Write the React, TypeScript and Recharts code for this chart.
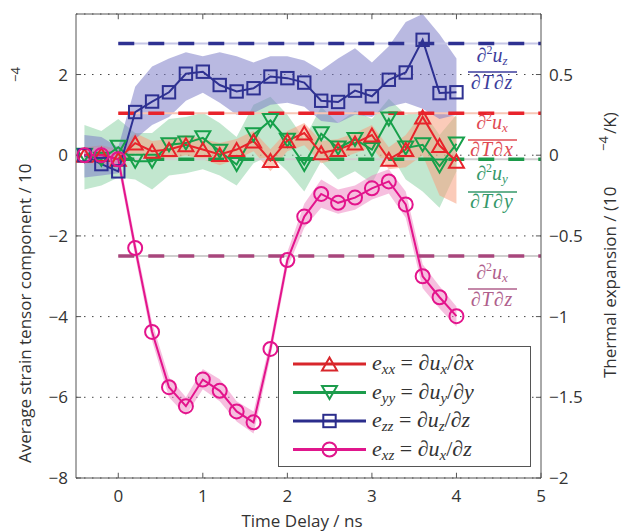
import React from 'react';
import { ComposedChart, Line, Area, XAxis, YAxis, CartesianGrid, ReferenceLine } from 'recharts';

const times = [-0.4, -0.2, 0, 0.2, 0.4, 0.6, 0.8, 1.0, 1.2, 1.4, 1.6, 1.8, 2.0, 2.2, 2.4, 2.6, 2.8, 3.0, 3.2, 3.4, 3.6, 3.8, 4.0];

const exx = [0, 0.02, -0.1, 0.3, 0.1, 0.14, 0.26, 0.14, 0.02, 0.14, 0.35, -0.13, 0.36, 0.55, 0.06, 0.14, 0.3, 0.5, -0.1, 0.14, 0.95, 0.24, -0.15];
const exxLo = [-0.2, -0.2, -0.3, 0.05, -0.15, -0.1, 0.0, -0.1, -0.25, -0.1, 0.1, -0.4, 0.1, 0.25, -0.2, -0.1, 0.05, 0.2, -0.35, -0.3, 0.0, -1.0, -1.2];
const exxHi = [0.2, 0.25, 0.15, 0.55, 0.35, 0.4, 0.5, 0.4, 0.3, 0.4, 0.6, 0.15, 0.6, 0.8, 0.35, 0.4, 0.55, 0.75, 0.2, 0.5, 1.05, 1.05, 0.95];

const eyy = [0, -0.1, 0.2, -0.15, -0.15, 0.26, 0.3, 0.43, 0.1, -0.23, 0.51, 0.86, 0.37, -0.23, 0.53, 0.18, 0.39, 0.14, 0.9, 0.18, 0.26, -0.27, 0.28];
const eyyLo = [-0.85, -0.75, -0.55, -0.6, -0.85, -0.5, -0.45, -0.35, -0.5, -0.75, -0.2, 0.0, -0.4, -0.9, -0.15, -0.6, -0.4, -0.7, 0.1, -0.6, -0.9, -1.3, -0.4];
const eyyHi = [0.75, 0.6, 0.9, 0.55, 0.55, 0.9, 0.95, 1.05, 0.8, 0.45, 1.25, 1.45, 1.0, 0.4, 1.2, 0.8, 1.1, 0.9, 1.4, 1.0, 1.1, 0.5, 1.0];

const ezz = [0, -0.22, -0.4, 1.07, 1.33, 1.56, 2.02, 2.07, 1.74, 1.58, 1.66, 1.95, 1.91, 1.8, 1.35, 1.32, 1.6, 1.46, 1.87, 2.05, 2.86, 1.54, 1.56];
const ezzLo = [-0.55, -0.5, -0.45, 0.4, 0.75, 0.95, 1.35, 1.55, 1.3, 1.0, 1.05, 1.25, 1.3, 1.2, 0.85, 0.8, 1.0, 0.95, 1.2, 1.3, 1.15, 0.9, 1.0];
const ezzHi = [0.5, 0.45, 0.2, 1.7, 2.2, 2.4, 2.55, 2.45, 2.55, 2.45, 2.3, 2.45, 2.45, 2.35, 2.1, 2.4, 2.65, 2.3, 2.7, 3.3, 3.5, 3.0, 2.4];

const exz = [0, 0, -0.1, -2.3, -4.38, -5.75, -6.22, -5.56, -5.84, -6.35, -6.62, -4.8, -2.6, -1.52, -0.96, -1.18, -1.05, -0.82, -0.65, -1.22, -3.0, -3.52, -3.99];
const exzLo = [-0.2, -0.2, -0.3, -2.5, -4.6, -6.0, -6.45, -5.8, -6.1, -6.6, -6.9, -5.0, -2.8, -1.8, -1.3, -1.45, -1.35, -1.1, -0.95, -1.55, -3.3, -3.8, -4.25];
const exzHi = [0.2, 0.2, 0.1, -2.1, -4.15, -5.5, -6.0, -5.3, -5.55, -6.1, -6.35, -4.6, -2.4, -1.2, -0.6, -0.85, -0.75, -0.5, -0.35, -0.9, -2.7, -3.25, -3.75];

// thermal expansion reference levels (left-axis units)
const refLevels = [
  { key: 'z', value: 2.77, dark: '#2e3192', light: '#c6c6e6' },
  { key: 'x', value: 1.04, dark: '#e8232b', light: '#f8c6b6' },
  { key: 'y', value: -0.1, dark: '#1c9a4a', light: '#cfcfcf' },
  { key: 'xz', value: -2.5, dark: '#a8467c', light: '#cfcfcf' },
];

const xTicks = [0, 1, 2, 3, 4, 5];
const leftTicks = [-8, -6, -4, -2, 0, 2];
const rightTicks = [-2, -1.5, -1, -0.5, 0, 0.5];

const data = times.map((t, i) => ({
  t,
  exx: exx[i], exxBand: [exxLo[i], exxHi[i]],
  eyy: eyy[i], eyyBand: [eyyLo[i], eyyHi[i]],
  ezz: ezz[i], ezzBand: [ezzLo[i], ezzHi[i]],
  exz: exz[i], exzBand: [exzLo[i], exzHi[i]],
}));

const RED = '#e8232b';
const GREEN = '#17a04a';
const BLUE = '#2e3192';
const PINK = '#e3148c';
const AXIS = '#555555';
const TXT = '#333333';

const triUp = (cx: number, cy: number) => `M${cx},${cy - 6.5} L${cx + 7.5},${cy + 6.5} L${cx - 7.5},${cy + 6.5} Z`;
const triDown = (cx: number, cy: number) => `M${cx},${cy + 6.5} L${cx + 7.5},${cy - 6.5} L${cx - 7.5},${cy - 6.5} Z`;

const Marker = ({ shape, cx, cy, color }: any) => {
  if (cx == null || cy == null) return null;
  if (shape === 'up') return <path d={triUp(cx, cy)} fill="none" stroke={color} strokeWidth={2} />;
  if (shape === 'down') return <path d={triDown(cx, cy)} fill="none" stroke={color} strokeWidth={2} />;
  if (shape === 'square') return <rect x={cx - 6.2} y={cy - 6.2} width={12.4} height={12.4} fill="none" stroke={color} strokeWidth={2} />;
  return <circle cx={cx} cy={cy} r={7} fill="none" stroke={color} strokeWidth={2} />;
};

const dotFn = (shape: string, color: string) => (p: any) => (
  <Marker key={`${shape}-${p.index}`} shape={shape} cx={p.cx} cy={p.cy} color={color} />
);

const fmt = (v: number) => String(v).replace('-', '\u2212');

const serif = "'Liberation Serif', 'DejaVu Serif', serif";
const sans = "'Open Sans', 'Noto Sans', sans-serif";

const legendItems = [
  { shape: 'up', color: '#d8262b', sub: 'xx', u: 'x', d: 'x' },
  { shape: 'down', color: '#1c9c4c', sub: 'yy', u: 'y', d: 'y' },
  { shape: 'square', color: '#2b2d8c', sub: 'zz', u: 'z', d: 'z' },
  { shape: 'circle', color: '#e0168c', sub: 'xz', u: 'x', d: 'z' },
];

const fracLabels = [
  { u: 'z', d: 'z', color: '#3d3d9c', num: 62, bar: 72, den: 89 },
  { u: 'x', d: 'x', color: '#e04a52', num: 129, bar: 140, den: 156 },
  { u: 'y', d: 'y', color: '#35996a', num: 180, bar: 192, den: 208 },
  { u: 'x', d: 'z', color: '#b0608c', num: 279, bar: 289, den: 306 },
];

export default function App() {
  return (
    <div style={{ position: 'absolute', left: 0, top: 0, width: 622, height: 532, background: '#fff' }}>
      <ComposedChart width={622} height={532} data={data} margin={{ top: 14, right: 0, bottom: 0, left: 0 }}>
        <XAxis
          dataKey="t" type="number" domain={[-0.5, 5]} ticks={xTicks} height={54}
          tickLine={false} tickSize={6} tickMargin={6}
          axisLine={{ stroke: AXIS }} tick={{ fill: TXT, fontSize: 17, fontFamily: sans }}
          allowDataOverflow
        />
        <YAxis
          yAxisId="left" type="number" domain={[-8, 3.5]} ticks={leftTicks} width={76}
          tickLine={false} tickSize={6} tickMargin={2} tickFormatter={fmt}
          axisLine={{ stroke: AXIS }} tick={{ fill: TXT, fontSize: 17, fontFamily: sans }}
          allowDataOverflow
        />
        <YAxis
          yAxisId="right" orientation="right" type="number" domain={[-2, 0.875]} ticks={rightTicks} width={81}
          tickLine={false} tickSize={6} tickMargin={2} tickFormatter={fmt}
          axisLine={{ stroke: AXIS }} tick={{ fill: TXT, fontSize: 17, fontFamily: sans, textAnchor: 'start' }}
          allowDataOverflow
        />
        <CartesianGrid yAxisId="left" vertical={false} stroke="#444" strokeDasharray="1.5 6.5" />

        <Area yAxisId="left" dataKey="eyyBand" type="linear" stroke="none" fill="#8fd4a8" fillOpacity={0.55} isAnimationActive={false} dot={false} activeDot={false} legendType="none" />
        <Area yAxisId="left" dataKey="exxBand" type="linear" stroke="none" fill="#f8a080" fillOpacity={0.55} isAnimationActive={false} dot={false} activeDot={false} legendType="none" />
        <Area yAxisId="left" dataKey="ezzBand" type="linear" stroke="none" fill="#8080c8" fillOpacity={0.55} isAnimationActive={false} dot={false} activeDot={false} legendType="none" />
        <Area yAxisId="left" dataKey="exzBand" type="linear" stroke="none" fill="#ee80c0" fillOpacity={0.5} isAnimationActive={false} dot={false} activeDot={false} legendType="none" />

        {refLevels.map((r) => (
          <ReferenceLine key={`l-${r.key}`} yAxisId="left" segment={[{ x: 0, y: r.value }, { x: 5, y: r.value }]} stroke={r.light} strokeWidth={2} />
        ))}
        {refLevels.map((r) => (
          <ReferenceLine key={`d-${r.key}`} yAxisId="left" segment={[{ x: 0, y: r.value }, { x: 5, y: r.value }]} stroke={r.dark} strokeWidth={3.5} strokeDasharray="16 14" />
        ))}

        <Line yAxisId="left" dataKey="eyy" type="linear" stroke={GREEN} strokeWidth={2} isAnimationActive={false} dot={dotFn('down', GREEN)} activeDot={false} />
        <Line yAxisId="left" dataKey="exx" type="linear" stroke={RED} strokeWidth={2} isAnimationActive={false} dot={dotFn('up', RED)} activeDot={false} />
        <Line yAxisId="left" dataKey="ezz" type="linear" stroke={BLUE} strokeWidth={2} isAnimationActive={false} dot={dotFn('square', BLUE)} activeDot={false} />
        <Line yAxisId="left" dataKey="exz" type="linear" stroke={PINK} strokeWidth={2} isAnimationActive={false} dot={dotFn('circle', PINK)} activeDot={false} />

        <ReferenceLine yAxisId="left" y={3.5} stroke={AXIS} />
        {xTicks.map((t) => (
          <ReferenceLine key={`xb-${t}`} yAxisId="left" segment={[{ x: t, y: -8 }, { x: t, y: -7.87 }]} stroke={AXIS} />
        ))}
        {xTicks.map((t) => (
          <ReferenceLine key={`xt-${t}`} yAxisId="left" segment={[{ x: t, y: 3.5 }, { x: t, y: 3.37 }]} stroke={AXIS} />
        ))}
        {leftTicks.map((v) => (
          <ReferenceLine key={`yl-${v}`} yAxisId="left" segment={[{ x: -0.5, y: v }, { x: -0.44, y: v }]} stroke={AXIS} />
        ))}
        {leftTicks.map((v) => (
          <ReferenceLine key={`yr-${v}`} yAxisId="left" segment={[{ x: 4.94, y: v }, { x: 5, y: v }]} stroke={AXIS} />
        ))}
      </ComposedChart>

      <svg width={622} height={532} style={{ position: 'absolute', left: 0, top: 0, pointerEvents: 'none' }}>
        {/* axis titles */}
        <text transform="translate(31,463) rotate(-90)" fontFamily={sans} fontSize={17} fill={TXT}>
          Average strain tensor component / 10
        </text>
        <text transform="translate(20,82) rotate(-90)" fontFamily={sans} fontSize={13} fill={TXT}>{'\u22124'}</text>
        <text x={302} y={527} textAnchor="middle" fontFamily={sans} fontSize={17} fill={TXT}>Time Delay / ns</text>
        <text transform="translate(616,378) rotate(-90)" fontFamily={sans} fontSize={17} fill={TXT}>
          Thermal expansion / (10
        </text>
        <text transform="translate(608,151) rotate(-90)" fontFamily={sans} fontSize={13} fill={TXT}>{'\u22124'}</text>
        <text transform="translate(616,134) rotate(-90)" fontFamily={sans} fontSize={17} fill={TXT}>/K)</text>

        {/* thermal expansion fraction labels */}
        {fracLabels.map((f, i) => (
          <g key={`f-${i}`} fill={f.color} fontFamily={serif} fontStyle="italic">
            <text x={492} y={f.num} textAnchor="middle" fontSize={20}>
              <tspan>∂</tspan>
              <tspan fontSize={12} dy={-8} fontStyle="normal">2</tspan>
              <tspan dy={8}>u</tspan>
              <tspan fontSize={13} dy={3}>{f.u}</tspan>
            </text>
            <line x1={468} x2={517} y1={f.bar} y2={f.bar} stroke={f.color} strokeWidth={1.5} />
            <text x={492} y={f.den} textAnchor="middle" fontSize={20} letterSpacing={1}>∂T∂{f.d}</text>
          </g>
        ))}

        {/* legend */}
        <rect x={278.5} y={346.5} width={252} height={120} fill="#fff" stroke={AXIS} strokeWidth={1} />
        {legendItems.map((it, i) => {
          const y = 364 + i * 28.5;
          return (
            <g key={`lg-${i}`}>
              <line x1={293} x2={366} y1={y} y2={y} stroke={it.color} strokeWidth={3} />
              <Marker shape={it.shape} cx={329.5} cy={y} color={it.color} />
              <text x={372} y={y + 6} fontFamily={serif} fontStyle="italic" fontSize={22} fill="#333">
                <tspan>e</tspan>
                <tspan fontSize={15} dy={4}>{it.sub}</tspan>
                <tspan dy={-4} fontStyle="normal">{' = '}</tspan>
                <tspan>∂u</tspan>
                <tspan fontSize={15} dy={4}>{it.u}</tspan>
                <tspan dy={-4} fontStyle="normal">/</tspan>
                <tspan>∂{it.d}</tspan>
              </text>
            </g>
          );
        })}
      </svg>
    </div>
  );
}
